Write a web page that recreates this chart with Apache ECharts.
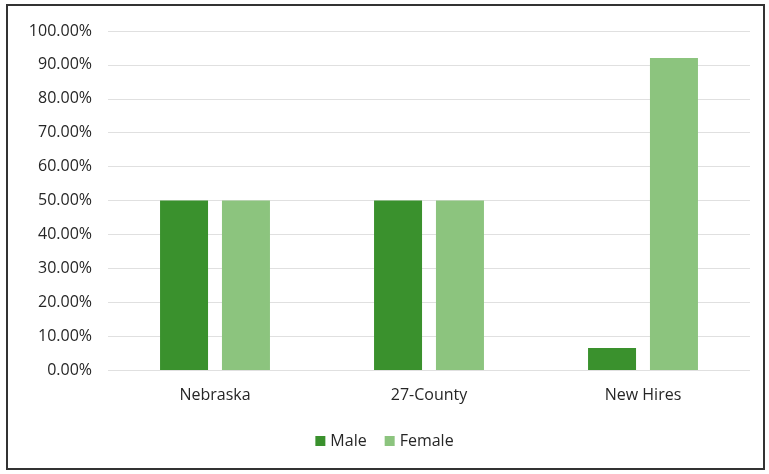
<!DOCTYPE html>
<html>
<head>
<meta charset="utf-8">
<script src="https://cdn.jsdelivr.net/npm/echarts@6/dist/echarts.min.js"></script>
<style>
  html, body { margin: 0; padding: 0; background: #fff; }
  #chart { width: 769px; height: 474px; }
</style>
</head>
<body>
<div id="chart"></div>
<script>
var categories = ['Nebraska', '27-County', 'New Hires']
var male = [0.50, 0.50, 0.065]
var female = [0.50, 0.50, 0.92]

var myChart = echarts.init(document.getElementById('chart'))
var option = {
  animation: false,
  graphic: [{
    type: 'rect',
    shape: { x: 7, y: 5, width: 757, height: 464 },
    style: { fill: 'none', stroke: '#333', lineWidth: 2 }
  }],
  grid: {
    left: 108,
    right: 19,
    top: 31,
    bottom: 104
  },
  legend: {
    bottom: 20,
    itemWidth: 10,
    itemHeight: 10,
    itemGap: 18,
    icon: 'rect',
    textStyle: { color: '#262626', fontSize: 16, fontFamily: 'Open Sans' },
    data: ['Male', 'Female']
  },
  xAxis: {
    type: 'category',
    data: categories,
    axisLine: { show: false },
    axisTick: { show: false },
    axisLabel: { color: '#262626', fontSize: 16, margin: 17, fontFamily: 'Open Sans' }
  },
  yAxis: {
    type: 'value',
    min: 0,
    max: 1,
    interval: 0.1,
    axisLine: { show: false },
    axisTick: { show: false },
    axisLabel: {
      color: '#262626',
      fontSize: 16,
      margin: 16,
      fontFamily: 'Open Sans',
      formatter: function (v) { return (v * 100).toFixed(2) + '%' }
    },
    splitLine: { lineStyle: { color: '#e0e0e0', width: 1 } }
  },
  series: [{
    name: 'Male',
    type: 'bar',
    data: male,
    barWidth: 48,
    barGap: '29%',
    itemStyle: { color: '#3a912d' }
  }, {
    name: 'Female',
    type: 'bar',
    data: female,
    barWidth: 48,
    itemStyle: { color: '#8cc47e' }
  }]
}
myChart.setOption(option)
</script>
</body>
</html>
